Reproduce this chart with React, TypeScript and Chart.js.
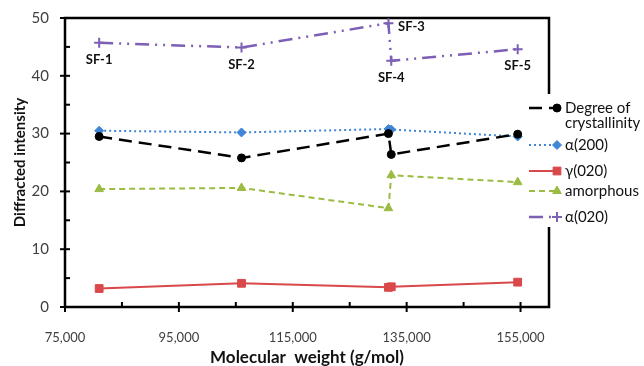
import React, { useEffect, useRef } from 'react';
import { Chart, registerables } from 'chart.js';
import { drawPoint } from 'chart.js/helpers';

Chart.register(...registerables);

const sampleLabels = ['SF-1', 'SF-2', 'SF-3', 'SF-4', 'SF-5'];
const molecularWeight = [81000, 106000, 131800, 132300, 154500];
const crystallinity = [29.5, 25.8, 30.0, 26.4, 29.9];
const alpha200 = [30.5, 30.2, 30.8, 30.7, 29.5];
const gamma020 = [3.2, 4.1, 3.4, 3.5, 4.3];
const amorphous = [20.4, 20.6, 17.1, 22.8, 21.6];
const alpha020 = [45.7, 44.9, 49.1, 42.6, 44.6];
const xTickValues = [75000, 95000, 115000, 135000, 155000];
const yTickValues = [0, 10, 20, 30, 40, 50];
const seriesNames = [['Degree of', 'crystallinity'], ['α(200)'], ['γ(020)'], ['amorphous'], ['α(020)']];

const FONT = 'Lato, "Open Sans", sans-serif';

const styles = [
  { color: '#000000', dash: [13, 7], width: 2.5, point: 'circle', radius: 4, bw: 1 },
  { color: '#3f86d6', dash: [2, 3], width: 2, point: 'rectRot', radius: 4.5, bw: 1 },
  { color: '#d9484a', dash: [], width: 2, point: 'rect', radius: 5.5, bw: 1 },
  { color: '#9bbb43', dash: [6, 4], width: 2, point: 'triangle', radius: 5, bw: 1 },
  { color: '#7d5fb5', dash: [14, 6, 2, 6, 2, 6], width: 2.5, point: 'cross', radius: 5, bw: 2 },
];
const seriesValues = [crystallinity, alpha200, gamma020, amorphous, alpha020];

const framePlugin = {
  id: 'frame',
  beforeDatasetsDraw(chart: any) {
    const { ctx, chartArea: a, scales } = chart;
    const xs = scales.x;
    const ys = scales.y;
    const line = (x1: number, y1: number, x2: number, y2: number) => {
      ctx.beginPath();
      ctx.moveTo(x1, y1);
      ctx.lineTo(x2, y2);
      ctx.stroke();
    };
    ctx.save();
    ctx.strokeStyle = '#000';
    ctx.lineWidth = 2.5;
    ctx.strokeRect(a.left, a.top, a.right - a.left, a.bottom - a.top);
    ctx.lineWidth = 2;
    yTickValues.forEach((v) => {
      const py = ys.getPixelForValue(v);
      line(a.left - 5, py, a.left + 5, py);
    });
    for (let i = 0; i < yTickValues.length - 1; i++) {
      const py = ys.getPixelForValue((yTickValues[i] + yTickValues[i + 1]) / 2);
      line(a.left, py, a.left + 5, py);
    }
    xTickValues.forEach((v) => {
      const px = xs.getPixelForValue(v);
      line(px, a.bottom - 5, px, a.bottom + 5);
    });
    for (let i = 0; i < xTickValues.length - 1; i++) {
      const px = xs.getPixelForValue((xTickValues[i] + xTickValues[i + 1]) / 2);
      line(px, a.bottom, px, a.bottom - 5);
    }
    ctx.restore();
  },
};

const labelPlugin = {
  id: 'sfLabels',
  afterDatasetsDraw(chart: any) {
    const { ctx, scales } = chart;
    ctx.save();
    ctx.font = 'bold 13px ' + FONT;
    ctx.fillStyle = '#111';
    ctx.textAlign = 'center';
    ctx.textBaseline = 'middle';
    sampleLabels.forEach((lab, i) => {
      const px = scales.x.getPixelForValue(molecularWeight[i]);
      const py = scales.y.getPixelForValue(alpha020[i]);
      if (i === 2) ctx.fillText(lab, px + 23, py + 4);
      else ctx.fillText(lab, px, py + 17);
    });
    ctx.restore();
  },
};

const legendPlugin = {
  id: 'customLegend',
  afterDraw(chart: any) {
    const { ctx, chartArea: a } = chart;
    const left = a.right - 22;
    ctx.save();
    ctx.fillStyle = '#fff';
    ctx.fillRect(left - 2, 94, 644 - left + 2, 133);
    const rows = [108, 145, 171, 191, 217];
    rows.forEach((ry, i) => {
      const s = styles[i];
      const markX = left + 30;
      ctx.strokeStyle = s.color;
      ctx.lineWidth = s.width;
      ctx.setLineDash(s.dash);
      ctx.beginPath();
      ctx.moveTo(left + 2, ry);
      ctx.lineTo(markX, ry);
      ctx.stroke();
      ctx.setLineDash([]);
      ctx.fillStyle = s.color;
      ctx.lineWidth = s.bw;
      drawPoint(ctx, { pointStyle: s.point, radius: s.radius, borderWidth: s.bw, rotation: 0 } as any, markX, ry);
      ctx.fillStyle = '#111';
      ctx.font = '15px ' + FONT;
      ctx.textAlign = 'left';
      ctx.textBaseline = 'middle';
      seriesNames[i].forEach((t, k) => ctx.fillText(t, left + 38, ry + k * 15));
    });
    ctx.restore();
  },
};

export default function App() {
  const ref = useRef<HTMLCanvasElement>(null);
  useEffect(() => {
    document.body.style.margin = '0';
    const datasets = seriesValues.map((vals, i) => ({
      label: seriesNames[i].join(' '),
      data: vals.map((v, k) => ({ x: molecularWeight[k], y: v })),
      borderColor: styles[i].color,
      backgroundColor: styles[i].color,
      borderWidth: styles[i].width,
      borderDash: styles[i].dash,
      pointStyle: styles[i].point,
      pointRadius: styles[i].radius,
      pointBorderWidth: styles[i].bw,
      pointBorderColor: styles[i].color,
      pointBackgroundColor: styles[i].color,
      showLine: true,
      fill: false,
      tension: 0,
      clip: false,
    }));
    const chart = new Chart(ref.current!, {
      type: 'scatter',
      data: { datasets },
      plugins: [framePlugin, labelPlugin, legendPlugin],
      options: {
        animation: false,
        responsive: false,
        layout: { padding: { top: 18, right: 95, left: 0, bottom: 0 } },
        plugins: { legend: { display: false }, tooltip: { enabled: false } },
        scales: {
          x: {
            type: 'linear',
            min: 75000,
            max: 160000,
            afterBuildTicks: (s: any) => { s.ticks = xTickValues.map((v) => ({ value: v })); },
            afterFit: (s: any) => { s.height = 59; },
            grid: { display: false },
            border: { display: false },
            ticks: {
              color: '#404040',
              font: { family: FONT, size: 13 },
              padding: 15,
              maxRotation: 0,
              autoSkip: false,
              callback: (v: any) => Number(v).toLocaleString('en-US'),
            },
            title: {
              display: true,
              text: 'Molecular  weight (g/mol)',
              color: '#111',
              font: { family: FONT, size: 17, weight: 'bold', lineHeight: 0.95 },
              padding: { top: 0, bottom: 0 },
            },
          },
          y: {
            type: 'linear',
            min: 0,
            max: 50,
            afterBuildTicks: (s: any) => { s.ticks = yTickValues.map((v) => ({ value: v })); },
            afterFit: (s: any) => { s.width = 65; },
            grid: { display: false },
            border: { display: false },
            ticks: {
              color: '#404040',
              font: { family: FONT, size: 15 },
              padding: 8,
            },
            title: {
              display: true,
              text: 'Diffracted intensity',
              color: '#111',
              font: { family: FONT, size: 15, weight: 'bold' },
              padding: { top: 11, bottom: 0 },
            },
          },
        },
      },
    });
    return () => chart.destroy();
  }, []);
  return (
    <div style={{ position: 'absolute', left: 0, top: 0, width: 644, height: 366 }}>
      <canvas ref={ref} width={644} height={366} />
    </div>
  );
}
